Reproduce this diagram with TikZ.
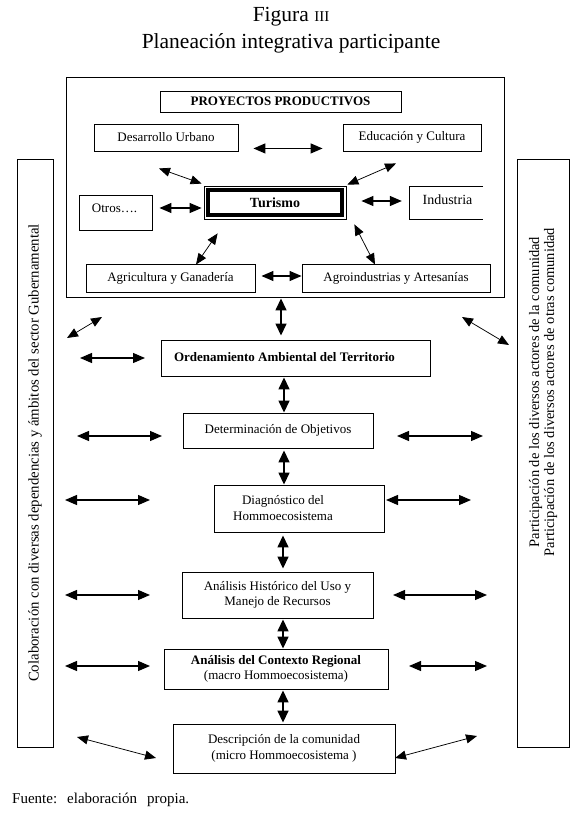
\documentclass[tikz,border=0pt]{standalone}
\usepackage{fontspec}
\setmainfont{Liberation Serif}
\usetikzlibrary{arrows.meta}
\tikzset{
  box/.style 2 args={draw, line width=0.9pt, minimum width=#1pt, minimum height=#2pt, inner sep=0pt},
  txt/.style={font=\fontsize{13}{15.5}\selectfont, align=center, inner sep=0pt},
  btxt/.style={font=\bfseries\fontsize{13}{15.5}\selectfont, align=center, inner sep=0pt},
  arr/.style={{Triangle[length=12pt,width=10pt]}-{Triangle[length=12pt,width=10pt]}, line width=1.2pt},
  tarr/.style={{Triangle[length=11pt,width=9pt]}-{Triangle[length=11pt,width=9pt]}, line width=0.75pt},
  varr/.style={{Triangle[length=12pt,width=11pt]}-{Triangle[length=12pt,width=11pt]}, line width=1.5pt}
}
\begin{document}
\begin{tikzpicture}[x=1pt,y=-1pt]
\fill[white] (0,0) rectangle (580,818);
\useasboundingbox (0,0) rectangle (580,818);

% title
\node[inner sep=0pt, font=\fontsize{21.5}{26}\selectfont] (t1) at (291,17) {Figura {\fontsize{15}{15}\selectfont III}};
\node[inner sep=0pt, font=\fontsize{21.5}{26}\selectfont] (t2) at (291,43) {Planeación integrativa participante};

% productive projects frame
\node[box={438}{220}] (outer) at (285,187) {};
\node[box={241}{21}, btxt] (proy) at (280.5,101.5) {PROYECTOS PRODUCTIVOS};
\node[box={144}{27}, txt] (desa) at (166,137.5) {Desarrollo Urbano};
\node[box={138}{27}, txt] (educ) at (412,137.5) {Educación y Cultura};
\node[box={142}{33}, line width=0.8pt, font=\bfseries\fontsize{14}{16}\selectfont] (tur) at (275,202.5) {Turismo};
\draw[line width=4pt] ([shift={(4.3,4.1)}]tur.north west) rectangle ([shift={(-4.3,-4.1)}]tur.south east);
\node[box={73}{35}] (otros) at (115.5,212.5) {};
\node[txt] (otrosT) at (114.5,208.5) {Otros….};
\node[minimum width=73pt, minimum height=32pt, inner sep=0pt] (ind) at (446.5,203) {};
\node[inner sep=0pt, font=\fontsize{14}{16}\selectfont] (indT) at (447.5,200) {Industria};
\draw[line width=0.9pt] (ind.north east) -- (ind.north west) -- (ind.south west) -- (ind.south east);
\node[box={169}{28}, txt] (agri) at (170.5,278) {Agricultura y Ganadería};
\node[box={188}{28}, txt] (agro) at (396,278) {Agroindustrias y Artesanías};

% side boxes
\node[box={588}{36}, rotate=90, font=\fontsize{14.8}{16}\selectfont] (gob) at (35,453) {Colaboración con diversas dependencias y ámbitos del sector Gubernamental};
\node[box={588}{52}, rotate=90] (com) at (543,453) {};
\node[rotate=90, inner sep=0pt, align=center, font=\fontsize{14.5}{15}\selectfont] (comT) at (543,392) {Participación de los diversos actores de la comunidad\\Participación de los diversos actores de otras comunidad};

% central chain
\node[box={269}{36}] (ord) at (295.5,358) {};
\node[btxt] (ordT) at (284.5,357) {Ordenamiento Ambiental del Territorio};
\node[box={190}{35}, txt] (det) at (278,430.5) {Determinación de Objetivos};
\node[box={170}{47}] (diag) at (299,508.5) {};
\node[txt] (diagT) at (283,508) {Diagnóstico del\\Hommoecosistema};
\node[box={191}{46}, txt] (hist) at (277.5,595) {Análisis Histórico del Uso y\\Manejo de Recursos};
\node[box={224}{40}, txt] (ctx) at (276,669) {\textbf{Análisis del Contexto Regional}\\(macro Hommoecosistema)};
\node[box={222}{49}, txt] (desc) at (284,748.5) {Descripción de la comunidad\\(micro Hommoecosistema )};

% source
\node[anchor=west, inner sep=0pt, font=\fontsize{15}{17}\selectfont] (fuente) at (12,800) {Fuente:\hspace{10pt}elaboración\hspace{10pt}propia.};

% arrows inside frame
\draw[arr] ([xshift=15pt,yshift=3pt]desa.south east) -- ([xshift=-20pt,yshift=3pt]educ.south west);
\draw[tarr] ([xshift=-7pt,yshift=-17pt]desa.south) -- ([xshift=-2pt,yshift=2pt]tur.north west);
\draw[tarr] ([xshift=-16pt,yshift=-12pt]educ.south) -- ([xshift=1pt,yshift=1pt]tur.north east);
\draw[arr] ([xshift=7pt,yshift=4.5pt]otros.east) -- ([xshift=-2pt,yshift=-5.5pt]tur.west);
\draw[arr] ([xshift=15pt,yshift=1.5pt]tur.east) -- ([xshift=-8pt,yshift=2pt]ind.west);
\draw[tarr] ([xshift=14pt,yshift=-14pt]tur.south west) -- ([xshift=25.5pt,yshift=-1pt]agri.north);
\draw[tarr] ([xshift=8pt,yshift=-5pt]tur.south east) -- ([xshift=-21pt,yshift=-1pt]agro.north);
\draw[arr] ([xshift=6pt,yshift=2pt]agri.east) -- ([yshift=2pt]agro.west);

% vertical chain arrows
\draw[varr] ([xshift=-4pt,yshift=-1pt]outer.south) -- ([xshift=-14.5pt,yshift=4pt]ord.north);
\draw[varr] ([xshift=-11.5pt,yshift=-1pt]ord.south) -- ([xshift=6pt]det.north);
\draw[varr] ([xshift=6pt,yshift=-2pt]det.south) -- ([xshift=-15pt]diag.north);
\draw[varr] ([xshift=-16pt,yshift=-3pt]diag.south) -- ([xshift=5.5pt,yshift=3pt]hist.north);
\draw[varr] ([xshift=5.5pt,yshift=-1pt]hist.south) -- ([xshift=7pt]ctx.north);
\draw[varr] ([xshift=7pt,yshift=-1pt]ctx.south) -- ([xshift=-1pt,yshift=1pt]desc.north);

% side arrows
\coordinate (l0a) at (67,338);  \coordinate (l0b) at (102,317);
\coordinate (r0a) at (462,317); \coordinate (r0b) at (509,345);
\coordinate (l1a) at (80,358);  \coordinate (l1b) at (145,358);
\coordinate (l2a) at (77,436);  \coordinate (l2b) at (162,436);
\coordinate (r2a) at (397,436); \coordinate (r2b) at (483,436);
\coordinate (l3a) at (65,500);  \coordinate (l3b) at (150,500);
\coordinate (r3a) at (386,500); \coordinate (r3b) at (471,500);
\coordinate (l4a) at (65,595);  \coordinate (l4b) at (150,595);
\coordinate (r4a) at (393,595); \coordinate (r4b) at (487,595);
\coordinate (l5a) at (65,666);  \coordinate (l5b) at (150,666);
\coordinate (r5a) at (409,666); \coordinate (r5b) at (487,666);
\coordinate (l6a) at (77,737);  \coordinate (l6b) at (156,758);
\coordinate (r6a) at (395,758); \coordinate (r6b) at (477,736);
\draw[tarr] (l0a) -- (l0b);
\draw[tarr] (r0a) -- (r0b);
\draw[arr] (l1a) -- (l1b);
\draw[arr] (l2a) -- (l2b);
\draw[arr] (r2a) -- (r2b);
\draw[arr] (l3a) -- (l3b);
\draw[arr] (r3a) -- (r3b);
\draw[arr] (l4a) -- (l4b);
\draw[arr] (r4a) -- (r4b);
\draw[arr] (l5a) -- (l5b);
\draw[arr] (r5a) -- (r5b);
\draw[tarr] (l6a) -- (l6b);
\draw[tarr] (r6a) -- (r6b);
\end{tikzpicture}
\end{document}
